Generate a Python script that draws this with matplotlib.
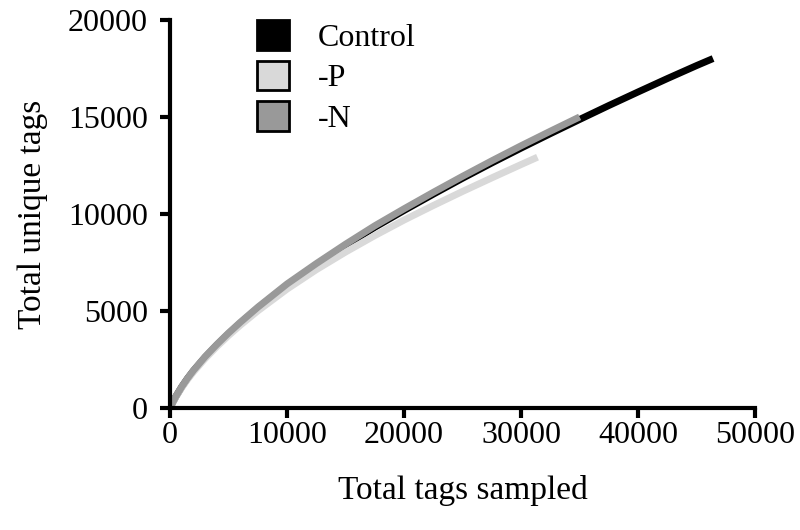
import matplotlib
matplotlib.use("Agg")
import matplotlib.pyplot as plt
from matplotlib.patches import Patch

# Data (rarefaction curves)
control_x = [0, 250, 500, 1000, 1500, 2000, 3000, 4000, 5000, 6000, 7500, 10000, 12500, 15000,
             17500, 20000, 22500, 25000, 27500, 30000, 32500, 35000, 37500, 40000, 42500, 45000, 46400]
control_y = [0, 315, 595, 1090, 1525, 1920, 2620, 3245, 3830, 4375, 5150, 6345, 7390, 8385,
             9325, 10190, 11030, 11850, 12640, 13405, 14150, 14880, 15600, 16300, 16990, 17660, 18020]

p_x = [0, 250, 500, 1000, 1500, 2000, 3000, 4000, 5000, 6000, 7500, 10000, 12500, 15000,
       17500, 20000, 22500, 25000, 27500, 30000, 31400]
p_y = [0, 300, 570, 1050, 1475, 1860, 2550, 3170, 3740, 4270, 5010, 6135, 7135, 8045,
       8895, 9695, 10445, 11170, 11870, 12557, 12935]

n_x = [0, 250, 500, 1000, 1500, 2000, 3000, 4000, 5000, 6000, 7500, 10000, 12500, 15000,
       17500, 20000, 22500, 25000, 27500, 30000, 32500, 35000]
n_y = [0, 320, 600, 1100, 1540, 1940, 2650, 3280, 3870, 4420, 5200, 6400, 7450, 8450,
       9400, 10275, 11125, 11950, 12750, 13525, 14275, 15010]

labels = ["Control", "-P", "-N"]
colors = ["#000000", "#d9d9d9", "#999999"]

xticks = [0, 10000, 20000, 30000, 40000, 50000]
yticks = [0, 5000, 10000, 15000, 20000]

plt.rcParams['font.family'] = ['Liberation Serif', 'DejaVu Serif']

fig = plt.figure(figsize=(8, 5.3), dpi=100)
ax = fig.add_axes([0.2125, 0.230, 0.7315, 0.732])

lw = 5
ax.plot(control_x, control_y, color=colors[0], lw=lw, solid_capstyle='butt', solid_joinstyle='round')
ax.plot(p_x, p_y, color=colors[1], lw=lw, solid_capstyle='butt', solid_joinstyle='round')
ax.plot(n_x, n_y, color=colors[2], lw=lw, solid_capstyle='butt', solid_joinstyle='round')

ax.set_xlim(0, 50000)
ax.set_ylim(0, 20000)
ax.set_xticks(xticks)
ax.set_yticks(yticks)
ax.set_xticklabels([str(t) for t in xticks], fontsize=23)
ax.set_yticklabels([str(t) for t in yticks], fontsize=23)

for s in ['top', 'right']:
    ax.spines[s].set_visible(False)
for s in ['left', 'bottom']:
    ax.spines[s].set_linewidth(3)
ax.tick_params(direction='out', length=7, width=3)
ax.tick_params(axis='x', pad=2)
ax.tick_params(axis='y', pad=9)

ax.set_xlabel("Total tags sampled", fontsize=24, labelpad=18)
ax.set_ylabel("Total unique tags", fontsize=24, labelpad=14)

handles = [Patch(facecolor=c, edgecolor='black', linewidth=2) for c in colors]
fig.legend(handles, labels, loc='upper left', bbox_to_anchor=(257/800, 1 - 20/530),
           frameon=False, fontsize=23, handlelength=1.0, handleheight=1.05,
           handletextpad=0.9, labelspacing=0.25, borderpad=0, borderaxespad=0)

fig.savefig("out.png", dpi=100)
